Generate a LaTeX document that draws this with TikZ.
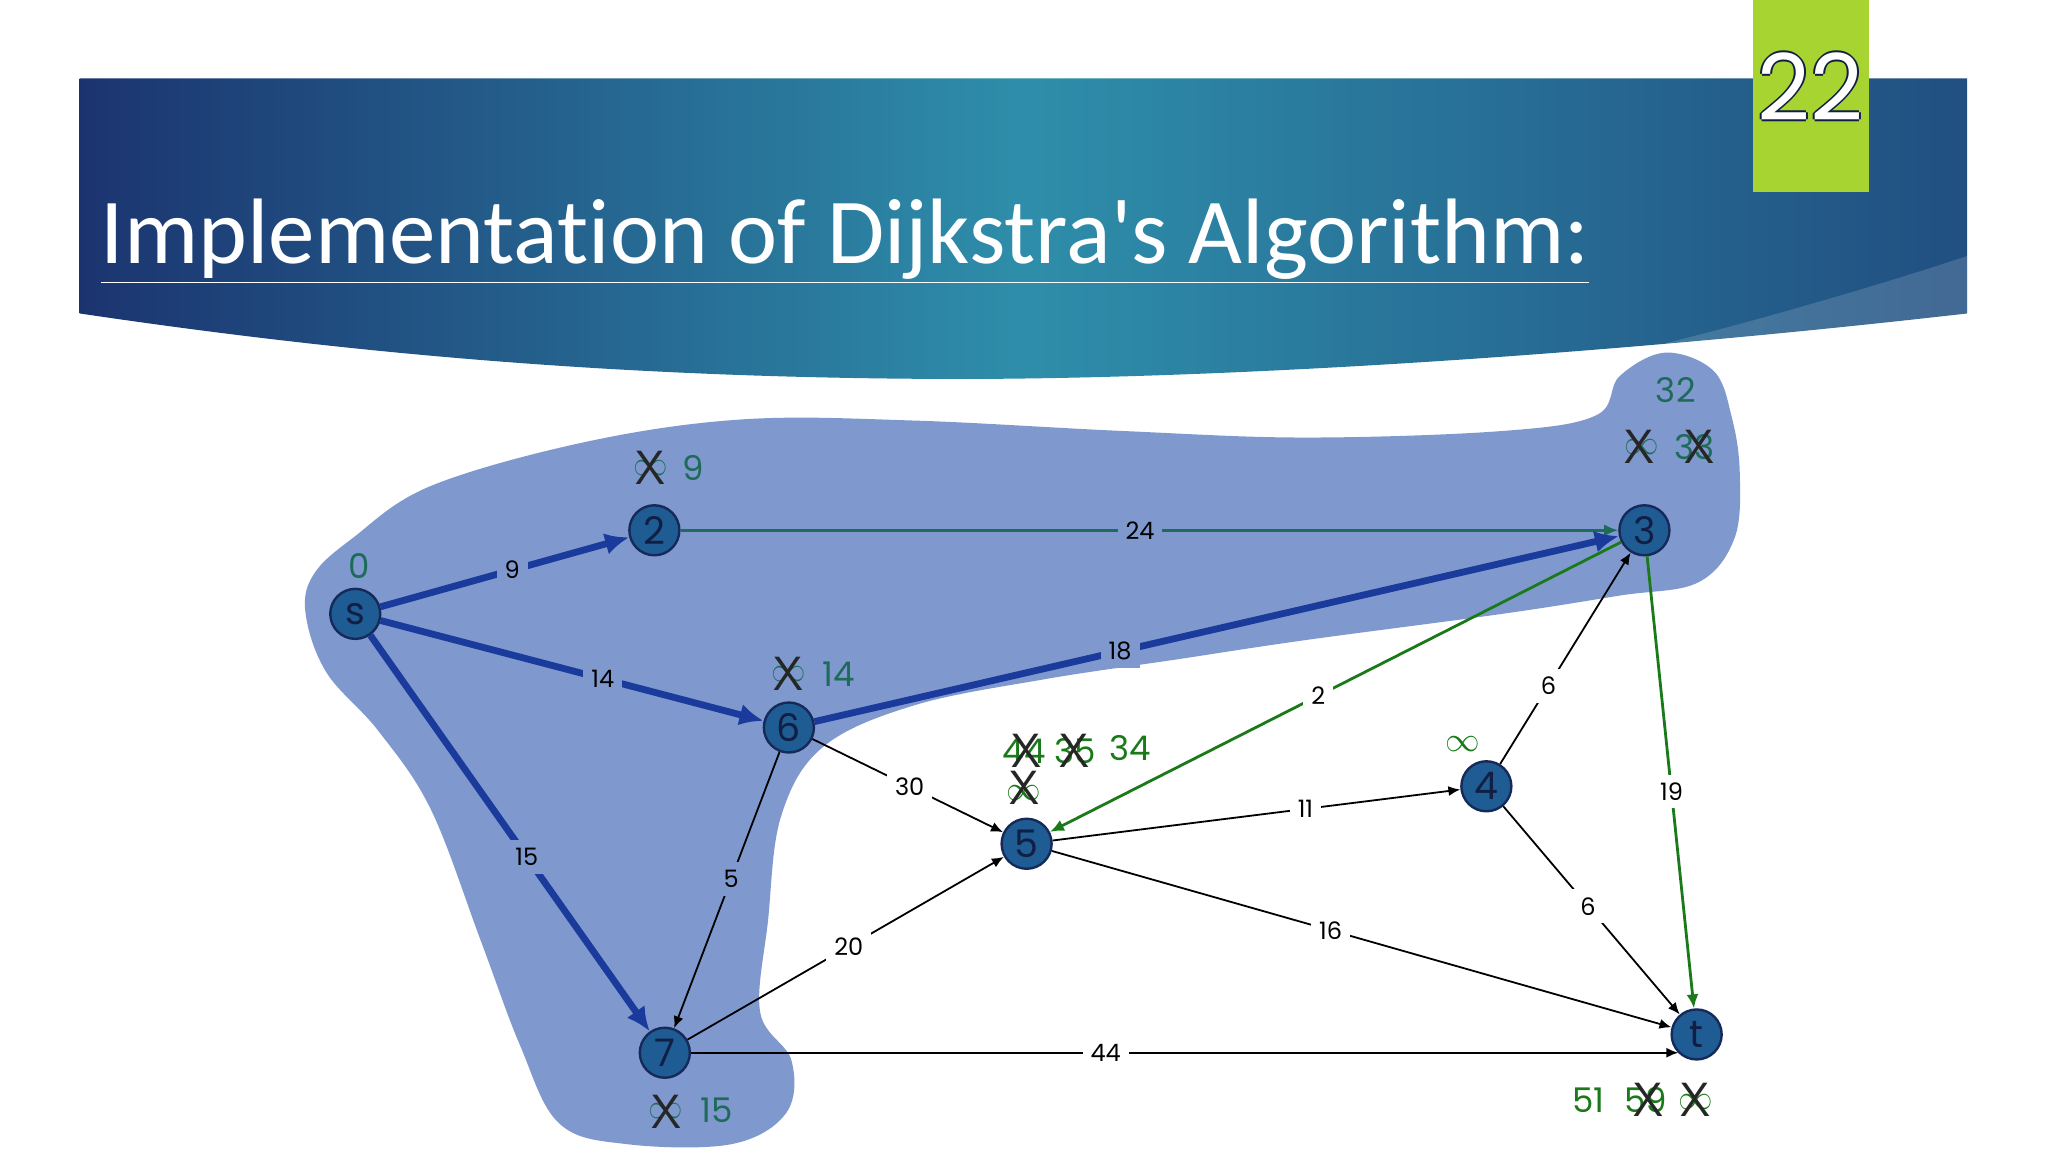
\documentclass[tikz,border=0pt]{standalone}
\usepackage{fontspec}
\setmainfont{Carlito}[Ligatures={NoCommon}]
\newfontfamily\numfont{Poppins}
\usetikzlibrary{arrows.meta}
\definecolor{navy}{HTML}{1B3470}
\definecolor{tealc}{HTML}{2E8EAA}
\definecolor{blob}{HTML}{7F99CF}
\definecolor{thick}{HTML}{1A3A9C}
\definecolor{grn}{HTML}{1A7A1A}
\definecolor{tl}{HTML}{1E6B5A}
\definecolor{nodef}{HTML}{1F5C94}
\definecolor{badge}{HTML}{A8D432}
\tikzset{
  vtx/.style={circle,draw=navy!80!black,line width=1.2pt,fill=nodef,minimum size=25pt,inner sep=0pt,font=\numfont\fontsize{19}{19}\selectfont,text=navy!60!black},
  thk/.style={draw=thick,line width=3.4pt,-{Latex[length=12pt,width=11pt]}},
  thn/.style={draw=black,line width=0.9pt,-{Latex[length=6pt,width=5pt]}},
  gr/.style={draw=grn,line width=1.4pt,-{Latex[length=7pt,width=6pt]}},
  tlc/.style={draw=tl,line width=1.4pt,-{Latex[length=7pt,width=6pt]}},
  lb/.style={fill=white,inner sep=4pt,font=\numfont\fontsize{12}{12}\selectfont,text=black},
  lbb/.style={lb,fill=blob},
  ann/.style={font=\numfont\fontsize{17}{17}\selectfont,inner sep=0pt},
  xx/.style={font=\fontfamily{lmss}\selectfont\fontsize{24}{24}\selectfont,inner sep=0pt,text=black!85},
  bdg/.style={font=\numfont\fontsize{46}{46}\selectfont,inner sep=0pt}
}
\begin{document}
\begin{tikzpicture}[x=0.653pt,y=-0.653pt]
\useasboundingbox (0,0) rectangle (1568,882);
\fill[white] (0,0) rectangle (1568,882);
% banner
\shade[left color=navy,right color=navy!70!tealc,middle color=tealc]
  (61,60) -- (1506,60) -- (1506,240) .. controls (1200,275) and (900,292) .. (700,290)
  .. controls (450,288) and (250,268) .. (61,240) -- cycle;
\fill[white,opacity=0.15] (1506,196) .. controls (1450,215) and (1300,260) .. (1200,280) -- (1506,240) -- cycle;
\node[anchor=base west,text=white,inner sep=0pt,font=\fontsize{46.5}{46.5}\selectfont] (title) at (77,202) {\underline{Implementation of Dijkstra\textquotesingle s Algorithm:}};
\fill[badge] (1342,0) rectangle (1431,147);
\foreach \dx/\dy in {-1.5/0,1.5/0,0/-1.5,0/1.5}{\node[bdg,text=navy!60!black] at (1386+\dx,66+\dy) {22};}
\node[bdg,text=white] (badge) at (1386,66) {22};
% blob
\fill[blob] plot[smooth cycle,tension=0.6] coordinates {(240,440) (270,412) (330,372) (450,338) (570,321) (700,322) (860,330) (1000,335) (1150,330) (1222,318) (1240,288) (1275,270) (1312,284) (1326,320) (1332,362) (1328,412) (1300,446) (1240,456) (1150,470) (1000,490) (900,505) (800,520) (700,540) (630,572) (598,625) (588,705) (582,775) (606,812) (602,852) (560,876) (480,876) (428,860) (398,800) (368,720) (330,620) (290,560) (250,515) (234,470)};
% nodes
\node[vtx] (s) at (272,470) {s};
\node[vtx] (n2) at (501,406) {2};
\node[vtx] (n3) at (1259,406) {3};
\node[vtx] (n6) at (604,557) {6};
\node[vtx] (n5) at (786,646) {5};
\node[vtx] (n4) at (1138,602) {4};
\node[vtx] (n7) at (509,806) {7};
\node[vtx] (t) at (1299,792) {t};
\coordinate (tin) at (1285,806);
% edges
\draw[tlc] (n2) -- node[lbb,pos=0.49] {24} (n3);
\draw[thn] (n6) -- node[lb,pos=0.51] {30} (n5);
\draw[thn] (n6) -- node[lbb,pos=0.46] {5} (n7);
\draw[thn] (n7) -- node[lb,pos=0.51] {20} (n5);
\draw[thn] (n5) -- node[lb,pos=0.62] {11} (n4);
\draw[thn] (n5) -- node[lb,pos=0.45] {16} (t);
\draw[thn] (n4) -- node[lb,pos=0.48] {6} (t);
\draw[thn] (n4) -- node[lb,pos=0.37] {6} (n3);
\draw[thn] (n7) -- node[lb,pos=0.42] {44} (tin);
\draw[gr] (n3) -- node[lb,pos=0.53] {2} (n5);
\draw[gr] (n3) -- node[lb,pos=0.52] {19} (t);
\draw[thk] (s) -- node[lbb,pos=0.53] {9} (n2);
\draw[thk] (s) -- node[lbb,pos=0.58] {14} (n6);
\draw[thk] (s) -- node[lbb,pos=0.56] {15} (n7);
\draw[thk] (n6) -- node[lbb,pos=0.38] {18} (n3);
% annotations
\node[ann,text=tl] (a0) at (275,433) {0};
\node[ann,text=tl] (a2i) at (498,358) {$\infty$}; \node[xx] at (498,358) {X};
\node[ann,text=tl] (a2) at (531,358) {9};
\node[ann,text=tl] (a6i) at (604,516) {$\infty$}; \node[xx] at (604,516) {X};
\node[ann,text=tl] (a6) at (642,516) {14};
\node[ann,text=tl] (a7i) at (510,851) {$\infty$}; \node[xx] at (510,851) {X};
\node[ann,text=tl] (a7) at (549,850) {15};
\node[ann,text=tl] (a3) at (1283,299) {32};
\node[ann,text=tl] (a3i) at (1257,342) {$\infty$}; \node[xx] at (1255,342) {X};
\node[ann,text=tl] (a33) at (1297,342) {33}; \node[xx] at (1301,342) {X};
\node[ann,text=grn] (a44) at (784,575) {44}; \node[xx] at (786,575) {X};
\node[ann,text=grn] (a35) at (823,575) {35}; \node[xx] at (823,575) {X};
\node[ann,text=grn] (a34) at (865,573) {34};
\node[ann,text=grn] (a5i) at (784,607) {$\infty$}; \node[xx] at (784,603) {X};
\node[ann,text=grn] (a4i) at (1120,570) {$\infty$};
\node[ann,text=grn] (a51) at (1216,842) {51};
\node[ann,text=grn] (a59) at (1260,842) {59}; \node[xx] at (1262,842) {X};
\node[ann,text=grn] (ati) at (1298,844) {$\infty$}; \node[xx] at (1298,842) {X};
\end{tikzpicture}
\end{document}
